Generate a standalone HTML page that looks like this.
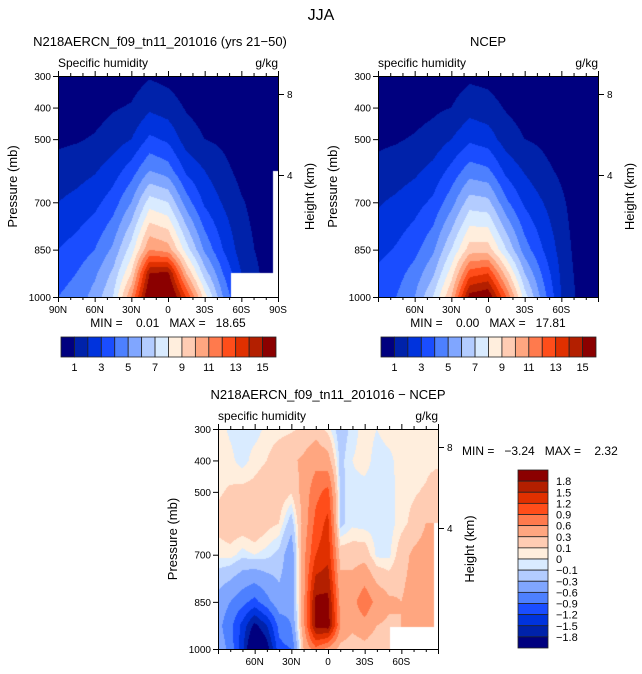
<!DOCTYPE html>
<html><head><meta charset="utf-8">
<style>
body{margin:0;background:#fff;width:642px;height:674px;overflow:hidden;font-family:"Liberation Sans",sans-serif}
#wrap{position:relative;width:642px;height:674px}
svg{position:absolute;left:0;top:0}
canvas{position:absolute}
</style></head><body>
<div id="wrap">
<canvas id="c1" width="220" height="221" style="left:58px;top:76px"></canvas>
<canvas id="c2" width="220" height="221" style="left:378px;top:76px"></canvas>
<canvas id="c3" width="220" height="220" style="left:218px;top:429px"></canvas>
<svg id="s" width="642" height="674" font-family="Liberation Sans, sans-serif"></svg>
</div>
<script>
// ---- data ----
const pLevels=[300,400,500,600,700,850,925,1000];
const lats15=[90,75,60,45,30,15,0,-15,-30,-45,-60,-75,-90];
const lats10=[90,80,70,60,50,40,30,20,10,0,-10,-20,-30,-40,-50,-60,-70,-80,-90];
const modelQ=[
[0.2,0.2,0.3,0.4,0.5,0.9,0.7,0.4,0.3,0.2,0.1,0.1,0.1],
[0.4,0.5,0.6,0.9,1.1,1.8,1.5,0.9,0.6,0.4,0.2,0.1,0.1],
[0.8,0.9,1.1,1.5,2.0,3.2,2.8,1.5,1.0,0.8,0.4,0.2,0.1],
[1.4,1.6,1.9,2.5,3.5,5.0,4.5,2.8,2.0,1.3,0.7,0.4,0.3],
[2.0,2.3,2.7,3.5,5.0,7.5,7.0,4.5,2.8,1.9,1.1,0.6,0.4],
[3.0,3.4,4.0,5.2,7.5,11,10.5,7.5,4.8,3.0,1.5,0.8,0.6],
[3.6,4.0,4.8,6.2,9.0,15.0,15.3,10,6.5,4.0,2.0,1.0,0.8],
[4.0,4.4,5.4,7.0,11,16.5,17,13,8.5,5.0,2.5,1.2,1.0]];
const ncepQ=[
[0.2,0.2,0.3,0.4,0.5,0.8,0.7,0.4,0.3,0.2,0.1,0.1,0.1],
[0.4,0.5,0.6,0.8,1.0,1.6,1.4,0.9,0.6,0.4,0.2,0.1,0.1],
[0.8,0.9,1.1,1.4,2.0,2.8,2.5,1.5,1.0,0.8,0.4,0.2,0.1],
[1.3,1.5,1.8,2.3,3.3,4.5,4.2,2.7,1.9,1.3,0.8,0.3,0.2],
[1.9,2.2,2.6,3.2,4.6,6.5,6.3,4.2,2.8,2.0,1.2,0.4,0.3],
[2.7,3.1,3.7,4.8,7.0,9.5,9.5,7.0,4.5,3.0,1.6,0.5,0.4],
[3.2,3.6,4.4,5.8,8.5,12.5,13,9.5,6.0,3.8,1.8,0.6,0.4],
[3.5,4.0,5.0,7.0,10,15.5,16,12,7.5,4.5,2.0,0.7,0.5]];
const diffQ=[
[0.05,-0.02,-0.05,-0.05,0.03,0.05,0.08,0.12,0.2,0.05,-0.2,-0.05,0.05,0.0,0.05,0.05,0.05,0.05,0.05],
[0.05,0.03,-0.05,0.05,0.1,0.2,0.25,0.35,0.5,0.4,-0.15,0.0,0.05,-0.05,-0.03,0.05,0.05,0.05,0.05],
[0.08,0.12,0.15,0.15,0.2,0.2,0.12,0.4,0.8,1.0,-0.15,-0.03,-0.05,-0.05,-0.05,0.05,0.08,0.12,0.25],
[0.15,0.2,0.2,0.25,0.15,0.1,-0.2,0.4,1.0,1.3,-0.15,-0.03,-0.05,-0.05,-0.05,0.05,0.15,0.3,0.3],
[0.03,0.05,-0.05,0.0,-0.05,-0.15,-0.5,0.5,1.2,1.4,0.2,0.2,0.2,-0.03,-0.03,0.2,0.35,0.4,0.35],
[-0.4,-0.6,-0.8,-1.0,-0.7,-0.4,-0.5,0.5,1.9,1.9,0.5,0.5,0.8,0.5,0.35,0.3,0.4,0.5,0.5],
[-0.5,-0.8,-1.3,-1.9,-1.5,-0.8,-0.6,0.5,1.9,2.0,0.6,0.4,0.5,0.3,0.25,0.3,0.5,0.6,0.5],
[-0.4,-0.7,-1.4,-2.5,-2.0,-1.0,-0.9,0.3,0.8,0.5,0.2,0.1,0.2,0.1,0.2,0.3,0.5,0.6,0.5]];
const qLevels=[1,2,3,4,5,6,7,8,9,10,11,12,13,14,15];
const dLevels=[-1.8,-1.5,-1.2,-0.9,-0.6,-0.3,-0.1,0,0.1,0.3,0.6,0.9,1.2,1.5,1.8];
const qLabels=["1","3","5","7","9","11","13","15"];
const dLabels=["1.8","1.5","1.2","0.9","0.6","0.3","0.1","0","\u22120.1","\u22120.3","\u22120.6","\u22120.9","\u22121.2","\u22121.5","\u22121.8"];
const modelMask=[[-51.5,-90,924,1000],[-86,-90,600,1000]];
const diffMask=[[-50.7,-90,930,1000],[-87,-90,600,1000]];
const colors=["#00007f","#0022aa","#0033dd","#1a4dff","#4d80ff","#80a6ff","#b3ccff","#d9ebff","#ffeedd","#ffccb3","#ffa680","#ff7a4d","#ff4d1a","#e03000","#b31f00","#8b0000"];

function interp(grid,lats,lat,p){
  let j=0;while(j<lats.length-2&&lat<lats[j+1])j++;
  let i=0;while(i<pLevels.length-2&&p>pLevels[i+1])i++;
  const tx=(lats[j]-lat)/(lats[j]-lats[j+1]);const ty=(p-pLevels[i])/(pLevels[i+1]-pLevels[i]);
  const a=grid[i][j],b=grid[i][j+1],c=grid[i+1][j],d=grid[i+1][j+1];
  return a*(1-tx)*(1-ty)+b*tx*(1-ty)+c*(1-tx)*ty+d*tx*ty;
}
function hexRGB(h){return [parseInt(h.slice(1,3),16),parseInt(h.slice(3,5),16),parseInt(h.slice(5,7),16)];}
const rgb=colors.map(hexRGB);
function drawField(id,grid,lats,levels,mask){
  const cv=document.getElementById(id),ctx=cv.getContext('2d');
  const W=cv.width,H=cv.height,img=ctx.createImageData(W,H);
  for(let y=0;y<H;y++)for(let x=0;x<W;x++){
    const lat=90-(x+0.5)/W*180,p=300+(y+0.5)/H*700;
    let k=(y*W+x)*4,masked=false;
    for(const m of mask)if(lat<=m[0]&&lat>=m[1]&&p>=m[2]&&p<=m[3])masked=true;
    let c=[255,255,255];
    if(!masked){const v=interp(grid,lats,lat,p);let idx=0;while(idx<levels.length&&v>=levels[idx])idx++;c=rgb[idx];}
    img.data[k]=c[0];img.data[k+1]=c[1];img.data[k+2]=c[2];img.data[k+3]=255;
  }
  ctx.putImageData(img,0,0);
}
drawField('c1',modelQ,lats15,qLevels,modelMask);
drawField('c2',ncepQ,lats15,qLevels,[]);
drawField('c3',diffQ,lats10,dLevels,diffMask);

// ---- axes ----
const S=document.getElementById('s'),NS='http://www.w3.org/2000/svg';
function el(tag,attrs,txt){const e=document.createElementNS(NS,tag);for(const k in attrs)e.setAttribute(k,attrs[k]);if(txt!==undefined)e.textContent=txt;S.appendChild(e);return e;}
function text(x,y,s,size,anchor,name,rot){
  const e=el('text',{x:x,y:y,'font-size':size,'text-anchor':anchor||'start',fill:'#000'},s);
  if(rot)e.setAttribute('transform','rotate(-90 '+x+' '+y+')');
  
  
  return e;
}
function line(x1,y1,x2,y2,name){const e=el('line',{x1:x1,y1:y1,x2:x2,y2:y2,stroke:'#000','stroke-width':1});
  
  }
const xTickLats=[90,60,30,0,-30,-60,-90];
const xTickLabels=["90N","60N","30N","0","30S","60S","90S"];
const pTicks=[300,400,500,700,850,1000];
const hTicks=[8,4];
function panel(L,T,W,H,o){
  const xs=lat=>L+(90-lat)/180*W, ys=p=>T+(p-300)/700*H;
  const r=el('rect',{x:L+0.5,y:T+0.5,width:W,height:H,fill:'none',stroke:'#000','stroke-width':1});
  
  
  for(let lat=90;lat>=-90;lat-=10){const x=xs(lat)+0.5,len=lat%30===0?5:3;
    line(x,T,x,T-len,o.pre+'top-tick');line(x,T+H,x,T+H+len,o.pre+'bottom-tick');}
  xTickLats.forEach((lat,i)=>{if(o.skipEnds&&(lat===90||lat===-90))return;text(xs(lat),T+H+16,xTickLabels[i],10,'middle',o.pre+'x-tick-label');});
  pTicks.forEach(p=>{const y=ys(p)+0.5;line(L,y,L-5,y,o.pre+'y-tick');text(L-7,y+3.5,String(p),10,'end',o.pre+'y-tick-label');});
  o.hY.forEach((y,i)=>{line(L+W,y+0.5,L+W+6,y+0.5,o.pre+'height-tick');text(L+W+9,y+4,String(hTicks[i]),10,'start',o.pre+'height-tick-label');});
  text(o.pLabX,T+H/2,'Pressure (mb)',13,'middle',o.pre+'y-axis-title',true);
  text(L+W+36,T+H/2+10,'Height (km)',13,'middle',o.pre+'height-axis-title',true);
  text(L,T-9,o.left,12,'start',o.pre+'variable-label');
  text(L+W,T-9,'g/kg',12,'end',o.pre+'units-label');
  text(o.tx,T-30,o.title,13,'middle',o.pre+'title');
}
text(321,20,'JJA',16,'middle','figure-title');
panel(58,76,220,221,{pre:'model-',hY:[94,175],pLabX:17,left:'Specific humidity',title:'N218AERCN_f09_tn11_201016 (yrs 21\u221250)',tx:160});
panel(378,76,220,221,{pre:'ncep-',hY:[94,175],pLabX:337,left:'specific humidity',title:'NCEP',tx:488,skipEnds:true});
panel(218,429,220,220,{pre:'diff-',hY:[447,528],pLabX:177,left:'specific humidity',title:'N218AERCN_f09_tn11_201016 \u2212 NCEP',tx:328,skipEnds:true});
const t1=text(168,327,'MIN =    0.01   MAX =   18.65',12,'middle','model-min-max');t1.style.whiteSpace='pre';
const t2=text(488,327,'MIN =    0.00   MAX =   17.81',12,'middle','ncep-min-max');t2.style.whiteSpace='pre';
const t3=text(462,455,'MIN =   \u22123.24   MAX =    2.32',12,'start','diff-min-max');t3.style.whiteSpace='pre';
function hbar(L,pre){
  const W=215/16;
  colors.forEach((c,i)=>{const r=el('rect',{x:L+i*W,y:337,width:W,height:20,fill:c,stroke:'#222','stroke-width':0.8});
    
    });
  qLabels.forEach((s,i)=>text(L+(1+2*i)*W,371,s,11,'middle',pre+'colorbar-label'));
}
hbar(61,'model-');hbar(381,'ncep-');
const VH=178/16;
colors.slice().reverse().forEach((c,i)=>{const r=el('rect',{x:518,y:470+i*VH,width:30,height:VH,fill:c,stroke:'#222','stroke-width':0.8});
  
  });
dLabels.forEach((s,i)=>text(556,470+(i+1)*VH+4,s,11,'start','diff-colorbar-label'));
</script>
</body></html>
